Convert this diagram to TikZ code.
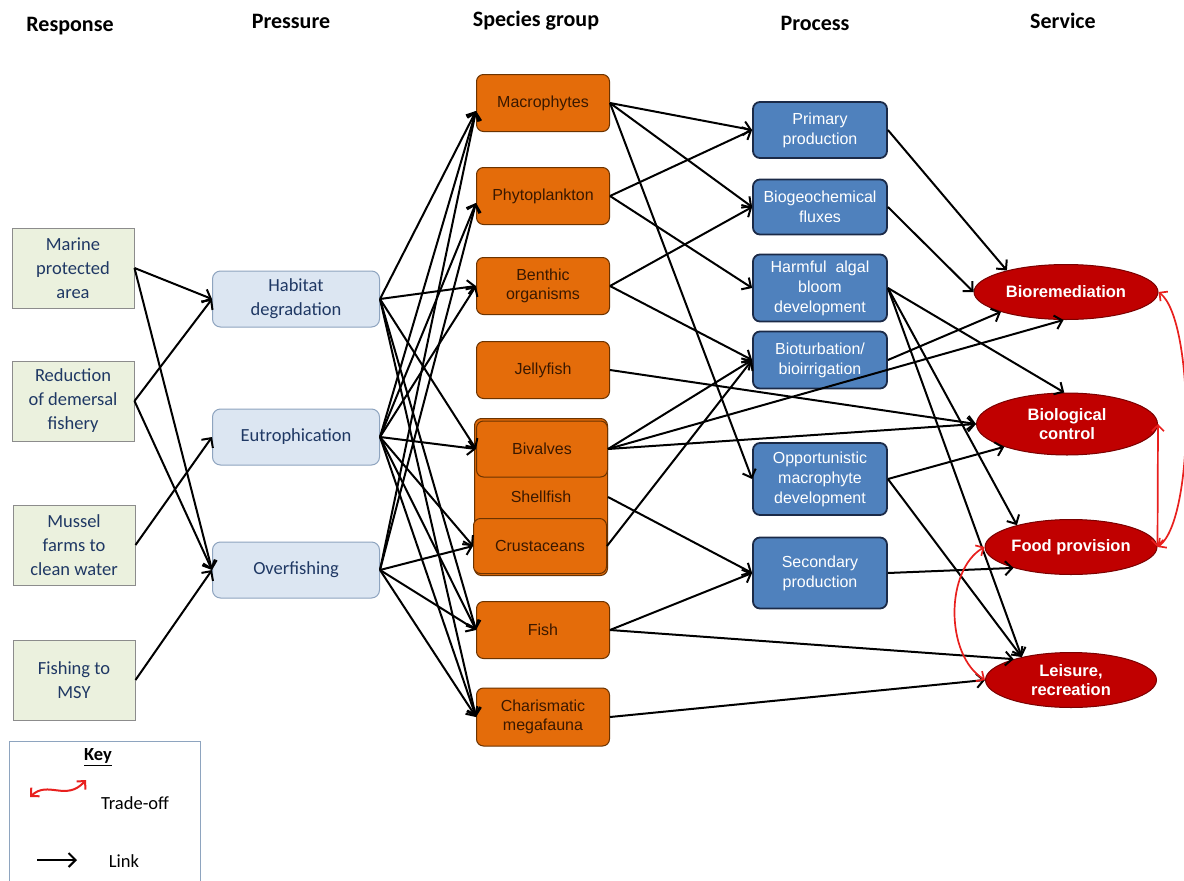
\documentclass[tikz,border=0pt]{standalone}
\usepackage{fontspec}
\setmainfont{Liberation Sans}
\newfontfamily\calibri{Carlito}
\usetikzlibrary{arrows.meta,shapes.geometric}
\definecolor{respfill}{HTML}{EBF1DE}
\definecolor{respline}{HTML}{8C8C8C}
\definecolor{presfill}{HTML}{DCE6F2}
\definecolor{presline}{HTML}{8EA4BF}
\definecolor{navytext}{HTML}{1F3864}
\definecolor{specfill}{HTML}{E46C0A}
\definecolor{specline}{HTML}{6B3300}
\definecolor{spectext}{HTML}{3A1800}
\definecolor{procfill}{HTML}{4F81BD}
\definecolor{procline}{HTML}{1B2A47}
\definecolor{servfill}{HTML}{C00000}
\definecolor{servline}{HTML}{7A0000}
\definecolor{tradered}{HTML}{E8201E}
\newcommand{\hdr}[1]{{\calibri\bfseries\fontsize{22}{24}\selectfont #1}}

\begin{document}
\begin{tikzpicture}
    [x=1pt,y=-1pt,
    resp/.style = {draw=respline,fill=respfill,line width=1pt,minimum width=122pt,minimum height=80pt,
                   align=center,text=navytext,font=\calibri\fontsize{18.5}{24}\selectfont},
    pres/.style = {draw=presline,fill=presfill,line width=1pt,rounded corners=8pt,minimum width=167pt,
                   minimum height=56pt,align=center,text=navytext,font=\calibri\fontsize{18.5}{24}\selectfont},
    spec/.style = {draw=specline,fill=specfill,line width=1pt,rounded corners=7pt,minimum width=133pt,
                   minimum height=57pt,align=center,text=spectext,font=\fontsize{16}{19}\selectfont},
    proc/.style = {draw=procline,fill=procfill,line width=1.8pt,rounded corners=7pt,minimum width=134pt,
                   align=center,text=white,font=\fontsize{16}{20}\selectfont},
    serv/.style = {ellipse,draw=servline,fill=servfill,line width=1pt,inner sep=0pt,align=center,
                   text=white,font=\bfseries\fontsize{16.5}{19}\selectfont},
    link/.style = {line width=2pt,-{Straight Barb[length=7pt,width=14pt]}},
    trade/.style = {tradered,line width=1.7pt,{Straight Barb[length=6pt,width=12pt]}-{Straight Barb[length=6pt,width=12pt]}}
    ]
\useasboundingbox[fill=white] (0,0) rectangle (1184,881);

% column titles
\node (tresp) at (70,26) {\hdr{Response}};
\node (tpres) at (291,21) {\hdr{Pressure}};
\node (tspec) at (536,21) {\hdr{Species group}};
\node (tproc) at (815,23) {\hdr{Process}};
\node (tserv) at (1063,21) {\hdr{Service}};

% responses
\node[resp] (mpa) at (73,268) {Marine\\protected\\area};
\node[resp] (rdf) at (73,401) {Reduction\\of demersal\\fishery};
\node[resp] (mus) at (74,545) {Mussel\\farms to\\clean water};
\node[resp] (msy) at (74,680) {Fishing to\\MSY};

% pressures
\node[pres] (hab) at (296,299) {Habitat\\degradation};
\node[pres] (eut) at (296,437) {Eutrophication};
\node[pres] (ovf) at (296,570) {Overfishing};

% species groups
\node[spec] (mac) at (543,103) {Macrophytes};
\node[spec] (phy) at (543,196) {Phytoplankton};
\node[spec] (ben) at (543,286) {Benthic\\organisms};
\node[spec] (jel) at (543,370) {Jellyfish};
\node[spec,minimum height=157pt] (shl) at (541,497) {Shellfish};
\node[spec,minimum width=131pt,minimum height=56pt] (biv) at (542,449) {Bivalves};
\node[spec,minimum height=55pt] (cru) at (540,546) {Crustaceans};
\node[spec] (fsh) at (543,630) {Fish};
\node[spec,minimum height=58pt] (cha) at (543,717) {Charismatic\\megafauna};

% processes
\node[proc,minimum height=56pt] (pri) at (820,130) {Primary\\production};
\node[proc,minimum height=55pt] (bgc) at (820,207) {Biogeochemical\\fluxes};
\node[proc,minimum height=67pt] (hab2) at (820,288) {Harmful~~algal\\bloom\\development};
\node[proc,minimum height=57pt] (btb) at (820,360) {Bioturbation/\\bioirrigation};
\node[proc,minimum height=72pt] (opp) at (820,479) {Opportunistic\\macrophyte\\development};
\node[proc,minimum height=71pt] (sec) at (820,573) {Secondary\\production};

% services
\node[serv,minimum width=184pt,minimum height=55pt] (bior) at (1066,292) {Bioremediation};
\node[serv,minimum width=181pt,minimum height=62pt] (bioc) at (1067,424) {Biological\\control};
\node[serv,minimum width=172pt,minimum height=55pt] (food) at (1071,547) {Food provision};
\node[serv,minimum width=171pt,minimum height=55pt] (leis) at (1071,680) {Leisure,\\recreation};

% response -> pressure
\draw[link] (mpa.east) -- (hab.west);
\draw[link] (mpa.east) -- (ovf.west);
\draw[link] (rdf.east) -- (hab.west);
\draw[link] (rdf.east) -- (ovf.west);
\draw[link] (mus.east) -- (eut.west);
\draw[link] (msy.east) -- (ovf.west);

% pressure -> species group
\draw[link] (hab.east) -- ([yshift=-8pt]mac.west);
\draw[link] (hab.east) -- (ben.west);
\draw[link] (hab.east) -- (biv.west);
\draw[link] (hab.east) -- (fsh.west);
\draw[link] (hab.east) -- (cha.west);
\draw[link] (eut.east) -- ([yshift=-8pt]mac.west);
\draw[link] (eut.east) -- ([yshift=-7pt]phy.west);
\draw[link] (eut.east) -- (ben.west);
\draw[link] (eut.east) -- (biv.west);
\draw[link] (eut.east) -- (cru.west);
\draw[link] (eut.east) -- (fsh.west);
\draw[link] (eut.east) -- (cha.west);
\draw[link] (ovf.east) -- ([yshift=-8pt]mac.west);
\draw[link] (ovf.east) -- ([yshift=-7pt]phy.west);
\draw[link] (ovf.east) -- (cru.west);
\draw[link] (ovf.east) -- (fsh.west);
\draw[link] (ovf.east) -- (cha.west);

% species group -> process
\draw[link] (mac.east) -- (pri.west);
\draw[link] (mac.east) -- (bgc.west);
\draw[link] (mac.east) -- (opp.west);
\draw[link] (phy.east) -- (pri.west);
\draw[link] (phy.east) -- (hab2.west);
\draw[link] (ben.east) -- (bgc.west);
\draw[link] (ben.east) -- (btb.west);
\draw[link] (biv.east) -- (btb.west);
\draw[link] (cru.east) -- (btb.west);
\draw[link] (shl.east) -- (sec.west);
\draw[link] (fsh.east) -- (sec.west);

% process / species group -> service
\draw[link] (pri.east) -- (bior.160);
\draw[link] (bgc.east) -- (bior.west);
\draw[link] (btb.east) -- (bior.197);
\draw[link] (biv.east) -- (bior.265);
\draw[link] (hab2.east) -- (bioc.95);
\draw[link] (jel.east) -- (bioc.west);
\draw[link] (biv.east) -- (bioc.west);
\draw[link] (opp.east) -- (bioc.200);
\draw[link] (hab2.east) -- (food.158);
\draw[link] (sec.east) -- (food.200);
\draw[link] (hab2.east) -- (leis.155);
\draw[link] (opp.east) -- (leis.155);
\draw[link] (fsh.east) -- (leis.160);
\draw[link] (cha.east) -- (leis.west);

% trade-offs
\draw[trade] (bior.east) .. controls (1195,320) and (1195,520) .. (food.east);
\draw[trade] (bioc.east) -- (food.east);
\draw[trade] (food.west) .. controls (945,570) and (945,655) .. (leis.west);

% key
\node[draw=presline,line width=1pt,minimum width=191pt,minimum height=146pt] (key) at (105,814) {};
\node[font=\calibri\bfseries\fontsize{18.5}{20}\selectfont] (keyt) at (98,757) {\underline{Key}};
\coordinate (trA) at (30,797);
\coordinate (trB) at (86,780);
\draw[trade,line width=2pt] (trA) .. controls (48,780) and (66,802) .. (trB);
\node[font=\calibri\fontsize{18.5}{20}\selectfont] (trt) at (135,803) {Trade-off};
\coordinate (lkA) at (37,860);
\coordinate (lkB) at (77,860);
\draw[link] (lkA) -- (lkB);
\node[font=\calibri\fontsize{18.5}{20}\selectfont] (lkt) at (124,861) {Link};

\end{tikzpicture}
\end{document}
